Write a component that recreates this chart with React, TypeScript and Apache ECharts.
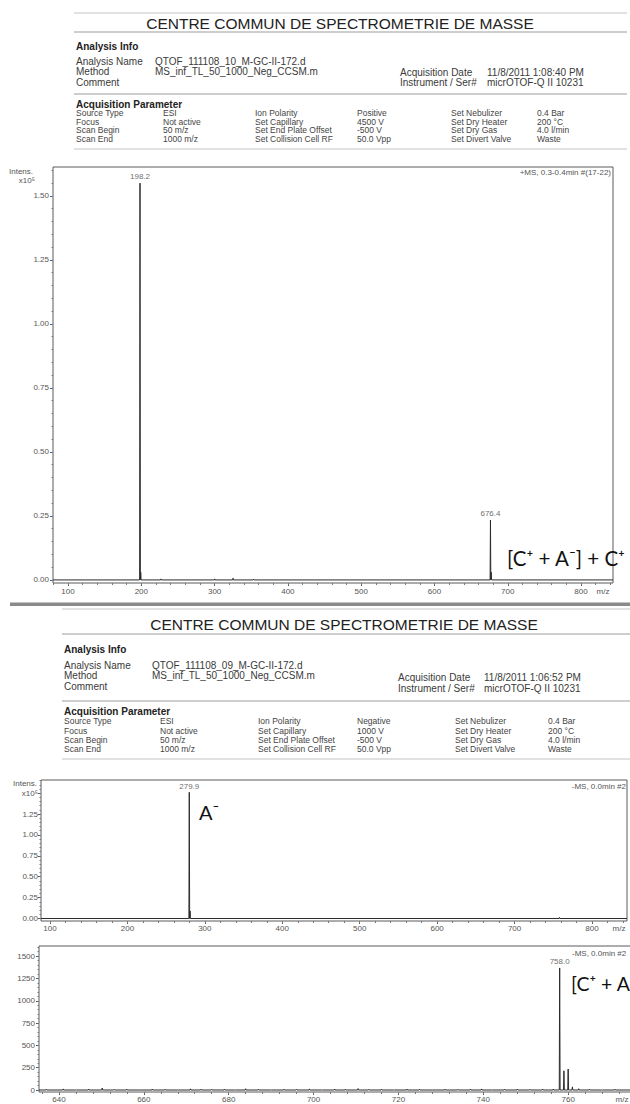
import React, { useEffect, useRef } from "react";
import * as echarts from "echarts";

const FONT = '"Liberation Sans", Arial, Helvetica, sans-serif';
const ANNOT_FONT = 'Lato, "Open Sans", "DejaVu Sans", sans-serif';

// ---------- Spectrum 1: positive ion mode (Intens. x10^5) ----------
const posPeakMz = [198.2, 199.2, 226.9, 300.1, 325.2, 353.0, 676.4, 677.4];
const posPeakInt = [1.55, 0.03, 0.004, 0.004, 0.007, 0.003, 0.234, 0.03];
const posLabeledMz = [198.2, 676.4];
const posYLabels = [0, 0.25, 0.5, 0.75, 1.0, 1.25, 1.5];
const posXLabels = [100, 200, 300, 400, 500, 600, 700, 800];

// ---------- Spectrum 2: negative ion mode (Intens. x10^5) ----------
const negPeakMz = [279.9, 280.9, 758.0];
const negPeakInt = [1.51, 0.09, 0.014];
const negLabeledMz = [279.9];
const negYLabels = [0, 0.25, 0.5, 0.75, 1.0, 1.25];
const negYTicks = [0, 0.25, 0.5, 0.75, 1.0, 1.25, 1.5];
const negXLabels = [100, 200, 300, 400, 500, 600, 700, 800];

// ---------- Spectrum 3: negative ion mode, zoom 635-777 (Intens.) ----------
const zoomPeakMz = [
  637.0, 641.0, 644.0, 647.0, 650.2, 653.0, 656.0, 659.0, 662.0, 665.0, 668.0, 671.0,
  673.5, 676.0, 679.0, 681.5, 684.0, 687.0, 690.0, 693.0, 696.0, 699.0, 702.0, 705.0,
  707.5, 710.5, 713.0, 716.0, 719.0, 722.0, 725.0, 728.0, 731.0, 734.0, 737.0, 739.6,
  742.0, 745.0, 748.0, 751.0, 754.0, 756.5, 758.0, 759.0, 760.0, 761.0, 762.5, 765.0,
  768.0, 771.0,
];
const zoomPeakInt = [
  8, 12, 6, 10, 22, 7, 9, 5, 11, 8, 6, 13,
  9, 7, 10, 6, 14, 8, 5, 9, 7, 12, 6, 10,
  8, 16, 7, 9, 5, 11, 8, 6, 10, 7, 9, 12,
  6, 8, 10, 7, 9, 11, 1368, 215, 235, 35, 14, 8,
  6, 9,
];
const zoomLabeledMz = [758.0];
const zoomYLabels = [0, 250, 500, 750, 1000, 1250, 1500];
const zoomXLabels = [640, 660, 680, 700, 720, 740, 760];

// ---------- Report header texts ----------
const reportTitle = "CENTRE COMMUN DE SPECTROMETRIE DE MASSE";
const infoLabels = ["Analysis Name", "Method", "Comment"];
const analysisNames = ["QTOF_111108_10_M-GC-II-172.d", "QTOF_111108_09_M-GC-II-172.d"];
const methodName = "MS_inf_TL_50_1000_Neg_CCSM.m";
const acqDates = ["11/8/2011 1:08:40 PM", "11/8/2011 1:06:52 PM"];
const instrumentName = "micrOTOF-Q II 10231";
const paramCol1Labels = ["Source Type", "Focus", "Scan Begin", "Scan End"];
const paramCol1Values = ["ESI", "Not active", "50 m/z", "1000 m/z"];
const paramCol2Labels = ["Ion Polarity", "Set Capillary", "Set End Plate Offset", "Set Collision Cell RF"];
const paramCol2ValuesPos = ["Positive", "4500 V", "-500 V", "50.0 Vpp"];
const paramCol2ValuesNeg = ["Negative", "1000 V", "-500 V", "50.0 Vpp"];
const paramCol3Labels = ["Set Nebulizer", "Set Dry Heater", "Set Dry Gas", "Set Divert Valve"];
const paramCol3Values = ["0.4 Bar", "200 °C", "4.0 l/min", "Waste"];
const spectrumTitles = ["+MS, 0.3-0.4min #(17-22)", "-MS, 0.0min #2", "-MS, 0.0min #2"];

function txt(x: number, y: number, text: string, o: any = {}) {
  const align = o.align || "left";
  return {
    type: "text",
    silent: true,
    z: 10,
    style: {
      x,
      y,
      text,
      fill: o.fill || "#3a3a3a",
      fontSize: o.size || 10,
      fontFamily: o.family || FONT,
      fontWeight: o.weight || "normal",
      align,
      verticalAlign: "middle",
      textAlign: align,
      textVerticalAlign: "middle",
    },
  };
}

function hline(x1: number, x2: number, y: number, stroke = "#aaa", w = 1) {
  return { type: "line", silent: true, shape: { x1, y1: y, x2, y2: y }, style: { stroke, lineWidth: w } };
}

function reportHeader(h: any) {
  const els: any[] = [];
  els.push(hline(h.left, h.right, h.topLine, "#c4c4c4"));
  els.push(txt(h.titleCx, h.titleY, reportTitle, { size: 15.5, align: "center", fill: "#222" }));
  els.push(hline(h.left, h.right, h.titleLine, "#9c9c9c"));
  els.push(txt(h.left + 2, h.infoY, "Analysis Info", { weight: "bold", fill: "#222" }));
  infoLabels.forEach((l, i) => els.push(txt(h.left + 2, h.infoRows[i], l)));
  els.push(txt(h.valX, h.infoRows[0], h.name));
  els.push(txt(h.valX, h.infoRows[1], methodName));
  els.push(txt(h.dateX, h.dateRows[0], "Acquisition Date"));
  els.push(txt(h.dateValX, h.dateRows[0], h.date));
  els.push(txt(h.dateX, h.dateRows[1], "Instrument / Ser#"));
  els.push(txt(h.dateValX, h.dateRows[1], instrumentName));
  els.push(hline(h.left, h.right, h.midLine, "#9c9c9c"));
  els.push(txt(h.left + 2, h.paramY, "Acquisition Parameter", { weight: "bold", fill: "#222" }));
  const cols = [paramCol1Labels, paramCol1Values, paramCol2Labels, h.col2Values, paramCol3Labels, paramCol3Values];
  cols.forEach((col: string[], ci: number) => {
    col.forEach((s, ri) => els.push(txt(h.cols[ci], h.rowYs[ri], s, { size: 8.5, fill: "#444" })));
  });
  els.push(hline(h.left, h.right, h.bottomLine, "#c4c4c4"));
  return els;
}

function stickData(mz: number[], inten: number[], xMin: number, xMax: number, w: number) {
  const idx = mz.map((_, i) => i).sort((a, b) => mz[a] - mz[b]);
  const pts: number[][] = [[xMin, 0]];
  idx.forEach((i) => {
    pts.push([mz[i] - w, 0]);
    pts.push([mz[i], inten[i]]);
    pts.push([mz[i] + w, 0]);
  });
  pts.push([xMax, 0]);
  return pts;
}

function range(a: number, b: number, step: number) {
  const out: number[] = [];
  for (let v = a; v <= b + 1e-9; v += step) out.push(Math.round(v * 1000) / 1000);
  return out;
}

function buildOption() {
  const grids: any[] = [];
  const xAxes: any[] = [];
  const yAxes: any[] = [];
  const series: any[] = [];
  const labelStyle = { fontSize: 8, color: "#555", fontFamily: FONT };

  function addPanel(p: any) {
    const gi = grids.length;
    grids.push({
      left: p.left, top: p.top, width: p.width, height: p.height,
      show: true, borderColor: "#5a5a5a", borderWidth: 1, backgroundColor: "rgba(0,0,0,0)",
    });
    const xi = xAxes.length;
    xAxes.push({
      type: "value", gridIndex: gi, position: "bottom", min: p.xMin, max: p.xMax,
      axisLine: { show: false, onZero: false }, splitLine: { show: false },
      axisTick: { show: true, length: 3, customValues: p.xLabels, lineStyle: { color: "#555" } },
      axisLabel: { ...labelStyle, margin: p.xMargin, customValues: p.xLabels, formatter: (v: number) => String(v) },
    });
    xAxes.push({
      type: "value", gridIndex: gi, position: "bottom", min: p.xMin, max: p.xMax,
      axisLine: { show: false, onZero: false }, splitLine: { show: false },
      axisTick: { show: true, length: 2, customValues: p.xMinor, lineStyle: { color: "#777" } },
      axisLabel: { show: false },
    });
    const yi = yAxes.length;
    yAxes.push({
      type: "value", gridIndex: gi, position: "left", min: p.yMin, max: p.yMax,
      axisLine: { show: false, onZero: false }, splitLine: { show: false },
      axisTick: { show: true, length: 3, customValues: p.yTicks, lineStyle: { color: "#555" } },
      axisLabel: { ...labelStyle, margin: p.yMargin, customValues: p.yLabels, formatter: p.yFmt },
    });
    yAxes.push({
      type: "value", gridIndex: gi, position: "left", min: p.yMin, max: p.yMax,
      axisLine: { show: false, onZero: false }, splitLine: { show: false },
      axisTick: { show: true, length: 1.5, customValues: p.yMinor, lineStyle: { color: "#777" } },
      axisLabel: { show: false },
    });
    series.push({
      type: "line", xAxisIndex: xi, yAxisIndex: yi,
      data: stickData(p.mz, p.inten, p.xMin, p.xMax, p.w),
      symbol: "none", showSymbol: false, silent: true, clip: true,
      lineStyle: { color: "#2b2b2b", width: 1 },
    });
    series.push({
      type: "scatter", xAxisIndex: xi, yAxisIndex: yi, silent: true,
      data: p.labeled.map((m: number) => [m, p.inten[p.mz.indexOf(m)]]),
      symbolSize: 1, itemStyle: { color: "rgba(0,0,0,0)" },
      label: {
        show: true, position: "top", distance: p.labelDist,
        formatter: (pr: any) => pr.value[0].toFixed(1),
        fontSize: 8, color: "#444", fontFamily: FONT,
      },
    });
  }

  // Panel 1
  addPanel({
    left: 53, top: 167, width: 560, height: 416,
    xMin: 79.5, xMax: 843.6, yMin: -0.012, yMax: 1.613,
    xLabels: posXLabels, xMinor: range(80, 840, 20), xMargin: 4,
    yLabels: posYLabels, yTicks: posYLabels, yMinor: range(0, 1.6, 0.05), yMargin: 4,
    yFmt: (v: number) => v.toFixed(2),
    mz: posPeakMz, inten: posPeakInt, labeled: posLabeledMz, w: 0.5, labelDist: 2,
  });
  // Panel 2
  addPanel({
    left: 41, top: 780, width: 586, height: 141,
    xMin: 88.4, xMax: 845.2, yMin: -0.03, yMax: 1.657,
    xLabels: negXLabels, xMinor: range(100, 840, 20), xMargin: 3,
    yLabels: negYLabels, yTicks: negYTicks, yMinor: range(0, 1.65, 0.05), yMargin: 3,
    yFmt: (v: number) => v.toFixed(2),
    mz: negPeakMz, inten: negPeakInt, labeled: negLabeledMz, w: 0.5, labelDist: 1,
  });
  // Panel 3 (runs past the right edge of the page, as in the scan)
  addPanel({
    left: 39, top: 946, width: 603, height: 146,
    xMin: 635.3, xMax: 777.4, yMin: -22.4, yMax: 1614,
    xLabels: zoomXLabels, xMinor: range(636, 776, 4), xMargin: 3,
    yLabels: zoomYLabels, yTicks: zoomYLabels, yMinor: range(0, 1600, 50), yMargin: 4,
    yFmt: (v: number) => String(v),
    mz: zoomPeakMz, inten: zoomPeakInt, labeled: zoomLabeledMz, w: 0.1, labelDist: 2,
  });

  const graphics: any[] = [];
  graphics.push(
    ...reportHeader({
      left: 74, right: 627, topLine: 13, titleCx: 340, titleY: 23, titleLine: 32,
      infoY: 46, infoRows: [61, 71, 82], valX: 155, name: analysisNames[0],
      dateX: 400, dateValX: 487, dateRows: [72, 82], date: acqDates[0],
      midLine: 94, paramY: 104, rowYs: [113, 121.5, 130, 138.5],
      cols: [76, 163, 255, 357, 451, 537], col2Values: paramCol2ValuesPos, bottomLine: 149,
    })
  );
  graphics.push(
    ...reportHeader({
      left: 62, right: 630, topLine: 609, titleCx: 344, titleY: 624, titleLine: 634,
      infoY: 649, infoRows: [665, 675, 686], valX: 152, name: analysisNames[1],
      dateX: 398, dateValX: 484, dateRows: [677, 688], date: acqDates[1],
      midLine: 701, paramY: 711, rowYs: [721, 730.5, 740, 749],
      cols: [64, 160, 258, 357, 455, 548], col2Values: paramCol2ValuesNeg, bottomLine: 759,
    })
  );
  // separator between the two scanned pages
  graphics.push({ type: "rect", silent: true, shape: { x: 10, y: 602.5, width: 620, height: 3.5 }, style: { fill: "#8a8a8a" } });

  // axis captions & spectrum titles
  graphics.push(txt(33, 171, "Intens.", { size: 8, align: "right", fill: "#555" }));
  graphics.push(txt(35, 180, "x10⁵", { size: 8, align: "right", fill: "#555" }));
  graphics.push(txt(603, 591, "m/z", { size: 8, align: "center", fill: "#555" }));
  graphics.push(txt(611, 172, spectrumTitles[0], { size: 8, align: "right", fill: "#555" }));

  graphics.push(txt(37, 783, "Intens.", { size: 8, align: "right", fill: "#555" }));
  graphics.push(txt(38, 793, "x10⁵", { size: 8, align: "right", fill: "#555" }));
  graphics.push(txt(619, 928, "m/z", { size: 8, align: "center", fill: "#555" }));
  graphics.push(txt(626, 786, spectrumTitles[1], { size: 8, align: "right", fill: "#555" }));

  graphics.push(txt(622, 1099, "m/z", { size: 8, align: "center", fill: "#555" }));
  graphics.push(txt(572, 953, spectrumTitles[2], { size: 8, align: "left", fill: "#555" }));

  // species annotations
  graphics.push(txt(507, 558, "[C⁺ + A⁻] + C⁺", { size: 20.5, family: ANNOT_FONT, fill: "#111" }));
  graphics.push(txt(199, 812, "A⁻", { size: 20, family: ANNOT_FONT, fill: "#111" }));
  graphics.push(txt(571, 983, "[C⁺ + A", { size: 19.5, family: ANNOT_FONT, fill: "#111" }));

  return {
    animation: false,
    backgroundColor: "#ffffff",
    grid: grids,
    xAxis: xAxes,
    yAxis: yAxes,
    series,
    graphic: { elements: graphics },
  };
}

export default function App() {
  const ref = useRef<HTMLDivElement>(null);
  useEffect(() => {
    if (!ref.current) return;
    const chart = echarts.init(ref.current, undefined, { renderer: "svg", width: 650, height: 1104 });
    chart.setOption(buildOption() as any);
    return () => chart.dispose();
  }, []);
  return (
    <div style={{ position: "absolute", left: 0, top: 0, width: 630, height: 1104, overflow: "hidden", background: "#fff" }}>
      <div ref={ref} style={{ position: "absolute", left: 0, top: 0, width: 650, height: 1104 }} />
    </div>
  );
}
